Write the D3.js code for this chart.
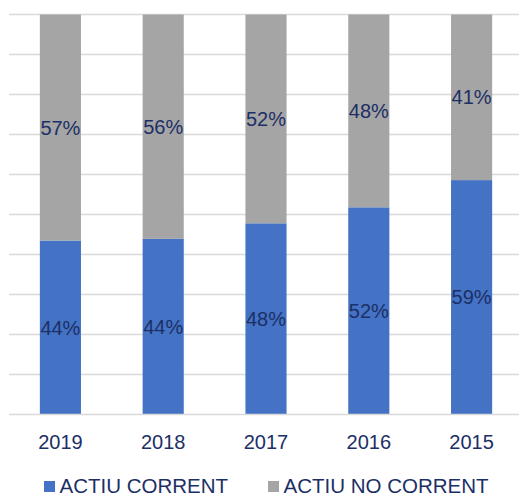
<!DOCTYPE html>
<html>
<head>
<meta charset="utf-8">
<script src="https://cdn.jsdelivr.net/npm/d3@7"></script>
<style>
  html, body { margin: 0; padding: 0; background: #fff; }
  svg { display: block; font-family: "Liberation Sans", Arial, sans-serif; }
</style>
</head>
<body>
<svg id="chart" width="519" height="497"></svg>
<script>
const categories = ["2019", "2018", "2017", "2016", "2015"];
const seriesNames = ["ACTIU CORRENT", "ACTIU NO CORRENT"];
const actiuCorrent = [43.5, 43.9, 47.8, 51.8, 58.6];
const actiuNoCorrent = [56.5, 56.1, 52.2, 48.2, 41.4];
const yTicks = [0, 0.1, 0.2, 0.3, 0.4, 0.5, 0.6, 0.7, 0.8, 0.9, 1.0];
const colors = ["#4472c4", "#a5a5a5"];

(function () {
const svg = d3.select("#chart");
const pLeft = 9, pRight = 523, pTop = 14.5, pBottom = 414.5;

const x = d3.scaleBand().domain(categories).range([pLeft, pRight]).paddingInner(0.6).paddingOuter(0.3);
const y = d3.scaleLinear().domain([0, 1]).range([pBottom, pTop]);

const rows = categories.map((c, i) => {
  const tot = actiuCorrent[i] + actiuNoCorrent[i];
  return { cat: c, a: actiuCorrent[i] / tot, b: actiuNoCorrent[i] / tot, la: actiuCorrent[i], lb: actiuNoCorrent[i] };
});
const stack = d3.stack().keys(["a", "b"])(rows);

// gridlines
svg.append("g").selectAll("line").data(yTicks.slice(1)).join("line")
  .attr("x1", pLeft).attr("x2", 519)
  .attr("y1", d => y(d)).attr("y2", d => y(d))
  .attr("stroke", "#d9d9d9").attr("stroke-width", 1.5);

// bars
stack.forEach((layer, li) => {
  svg.append("g").selectAll("rect").data(layer).join("rect")
    .attr("x", d => x(d.data.cat))
    .attr("width", x.bandwidth())
    .attr("y", d => y(d[1]))
    .attr("height", d => y(d[0]) - y(d[1]))
    .attr("fill", colors[li]);
});

// axis line
svg.append("line").attr("x1", pLeft).attr("x2", 519).attr("y1", y(0)).attr("y2", y(0))
  .attr("stroke", "#d9d9d9").attr("stroke-width", 1.5);

// data labels
stack.forEach((layer, li) => {
  svg.append("g").selectAll("text").data(layer).join("text")
    .attr("x", d => x(d.data.cat) + x.bandwidth() / 2)
    .attr("y", d => (y(d[0]) + y(d[1])) / 2 + 7)
    .attr("text-anchor", "middle")
    .attr("font-size", 20)
    .attr("fill", "#1c2f66")
    .text(d => Math.round(li === 0 ? d.data.la : d.data.lb) + "%");
});

// x axis labels
const xAxis = d3.axisBottom(x).tickSize(0).tickPadding(0);
const gx = svg.append("g").attr("transform", `translate(0,${pBottom})`).call(xAxis);
gx.select(".domain").remove();
gx.selectAll("text")
  .attr("y", 34.5).attr("dy", null)
  .attr("font-size", 20)
  .attr("font-family", "Liberation Sans, Arial, sans-serif")
  .attr("fill", "#1c2f66");

// legend
const legendX = [44, 268];
const lg = svg.append("g");
seriesNames.forEach((n, i) => {
  lg.append("rect").attr("x", legendX[i]).attr("y", 481).attr("width", 11).attr("height", 11).attr("fill", colors[i]);
  lg.append("text").attr("x", legendX[i] + 15.5).attr("y", 492.5).attr("font-size", 20.5).attr("fill", "#1c2f66").text(n);
});
})();
</script>
</body>
</html>
